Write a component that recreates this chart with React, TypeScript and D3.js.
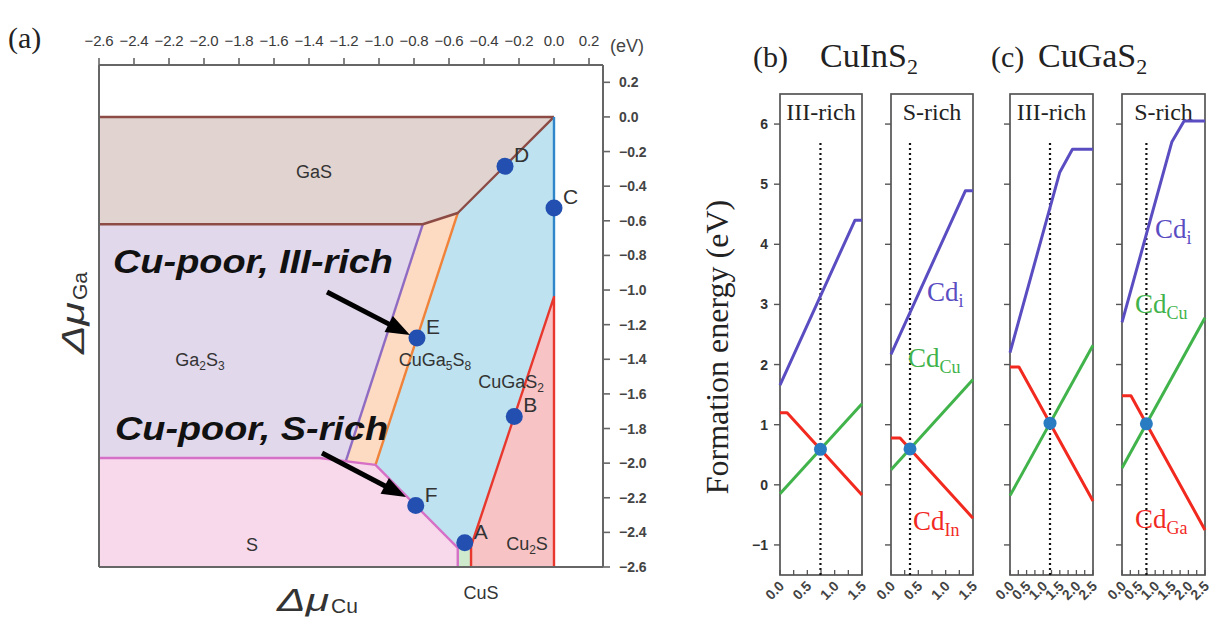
import React from 'react';
import * as d3 from 'd3';

const WIDTH = 1212;
const HEIGHT = 617;
const SANS = "'Liberation Sans', Arial, Helvetica, sans-serif";
const SERIF = "'Liberation Serif', 'Times New Roman', serif";

// ---------- (a) chemical-potential stability diagram (eV) ----------
const muTickValues = [-2.6, -2.4, -2.2, -2.0, -1.8, -1.6, -1.4, -1.2, -1.0, -0.8, -0.6, -0.4, -0.2, 0.0, 0.2];

// phase fields as [ΔμCu, ΔμGa] polygons
const phaseGaS = [[-2.6, 0], [0, 0], [-0.55, -0.555], [-0.75, -0.62], [-2.6, -0.62]];
const phaseGa2S3 = [[-2.6, -0.62], [-0.75, -0.62], [-1.19, -1.99], [-1.34, -1.97], [-2.6, -1.97]];
const phaseCuGa5S8 = [[-0.75, -0.62], [-0.55, -0.555], [-1.02, -2.01], [-1.19, -1.99]];
const phaseCuGaS2 = [[-0.55, -0.555], [0, 0], [0, -1.04], [-0.474, -2.48], [-0.55, -2.49], [-1.02, -2.01]];
const phaseS = [[-2.6, -1.97], [-1.34, -1.97], [-1.02, -2.01], [-0.55, -2.49], [-0.55, -2.6], [-2.6, -2.6]];
const phaseCuS = [[-0.55, -2.49], [-0.474, -2.48], [-0.474, -2.6], [-0.55, -2.6]];
const phaseCu2S = [[0, -1.04], [0, -2.6], [-0.474, -2.6], [-0.474, -2.48]];

// phase boundaries
const edgeGaSTop = [[-2.6, 0], [0, 0]];
const edgeGaSBottom = [[-2.6, -0.62], [-0.75, -0.62], [-0.55, -0.555], [0, 0]];
const edgeGa2S3 = [[-0.75, -0.62], [-1.19, -1.99]];
const edgeCuGa5S8 = [[-0.55, -0.555], [-1.02, -2.01]];
const edgeS = [[-2.6, -1.97], [-1.34, -1.97], [-1.02, -2.01], [-0.55, -2.49], [-0.55, -2.6]];
const edgeCuRich = [[0, 0], [0, -1.04]];
const edgeCu2S = [[0, -2.6], [0, -1.04], [-0.474, -2.48], [-0.474, -2.6]];

// labelled chemical-potential points
const pointNames = ['A', 'B', 'C', 'D', 'E', 'F'];
const pointMuCu = [-0.51, -0.227, 0.0, -0.28, -0.783, -0.79];
const pointMuGa = [-2.46, -1.73, -0.526, -0.285, -1.277, -2.245];

// ---------- (b),(c) Cd defect formation energies vs Fermi level ----------
const energyTicks = [-1, 0, 1, 2, 3, 4, 5, 6];

const cuInS2IIIRichCdI = [[0, 1.66], [1.37, 4.4], [1.5, 4.4]];
const cuInS2IIIRichCdCu = [[0, -0.15], [1.5, 1.35]];
const cuInS2IIIRichCdIn = [[0, 1.2], [0.13, 1.2], [1.5, -0.17]];

const cuInS2SRichCdI = [[0, 2.17], [1.36, 4.89], [1.5, 4.89]];
const cuInS2SRichCdCu = [[0, 0.25], [1.5, 1.75]];
const cuInS2SRichCdIn = [[0, 0.78], [0.165, 0.78], [1.5, -0.555]];

const cuGaS2IIIRichCdI = [[0, 2.2], [1.5, 5.2], [1.88, 5.58], [2.5, 5.58]];
const cuGaS2IIIRichCdCu = [[0, -0.18], [2.5, 2.32]];
const cuGaS2IIIRichCdGa = [[0, 1.96], [0.27, 1.96], [2.5, -0.27]];

const cuGaS2SRichCdI = [[0, 2.7], [1.5, 5.7], [1.87, 6.05], [2.5, 6.05]];
const cuGaS2SRichCdCu = [[0, 0.28], [2.5, 2.78]];
const cuGaS2SRichCdGa = [[0, 1.48], [0.27, 1.48], [2.5, -0.75]];

const panelHeads = ['III-rich', 'S-rich', 'III-rich', 'S-rich'];
const panelGaps = [1.5, 1.5, 2.5, 2.5];

const COLOR_I = '#5a4dc2';
const COLOR_CU = '#41b34b';
const COLOR_III = '#f2291f';
const COLOR_PIN = '#2a7cc2';

type Pt = number[];
type Part = [string, boolean];

function SubText({ x, y, parts, size, subSize, shift, ...rest }: any) {
  let prevSub = false;
  return (
    <text x={x} y={y} fontSize={size} {...rest}>
      {(parts as Part[]).map(([t, sub], i) => {
        const dy = sub && !prevSub ? shift : !sub && prevSub ? -shift : 0;
        prevSub = sub;
        return (
          <tspan key={i} dy={dy} fontSize={sub ? subSize : size}>
            {t}
          </tspan>
        );
      })}
    </text>
  );
}

function interp(pts: Pt[]) {
  return d3.scaleLinear().domain(pts.map((p) => p[0])).range(pts.map((p) => p[1])).clamp(true);
}

function crossing(a: Pt[], b: Pt[], xMax: number) {
  const fa = interp(a);
  const fb = interp(b);
  let lo = 0;
  let hi = xMax;
  const sign = Math.sign(fa(lo) - fb(lo));
  for (let k = 0; k < 60; k++) {
    const mid = (lo + hi) / 2;
    if (Math.sign(fa(mid) - fb(mid)) === sign) lo = mid;
    else hi = mid;
  }
  const x = (lo + hi) / 2;
  return [x, fa(x)];
}

function Arrow({ tail, tip }: { tail: Pt; tip: Pt }) {
  const dx = tip[0] - tail[0];
  const dy = tip[1] - tail[1];
  const len = Math.hypot(dx, dy);
  const ux = dx / len;
  const uy = dy / len;
  const headLen = 24;
  const halfW = 9;
  const bx = tip[0] - ux * headLen;
  const by = tip[1] - uy * headLen;
  const pts = [
    [tip[0], tip[1]],
    [bx - uy * halfW, by + ux * halfW],
    [bx + uy * halfW, by - ux * halfW],
  ];
  return (
    <g>
      <line x1={tail[0]} y1={tail[1]} x2={bx + ux * 2} y2={by + uy * 2} stroke="#000" strokeWidth={5} />
      <polygon points={pts.map((p) => p.join(',')).join(' ')} fill="#000" />
    </g>
  );
}

function PhaseDiagram() {
  const xMu = d3.scaleLinear().domain([-2.6, 0.28]).range([99, 603]);
  const yMu = d3.scaleLinear().domain([-2.6, 0.3]).range([567, 65]);
  const line = d3.line<Pt>().x((p) => xMu(p[0])).y((p) => yMu(p[1]));
  const poly = (pts: Pt[]) => line(pts) + 'Z';
  const fmt = d3.format('.1f');

  const fields: [Pt[], string][] = [
    [phaseGaS, '#e1d3cf'],
    [phaseGa2S3, '#e2d8ec'],
    [phaseCuGa5S8, '#fddbc3'],
    [phaseCuGaS2, '#bee2ef'],
    [phaseS, '#f8d9ec'],
    [phaseCuS, '#cfe9cc'],
    [phaseCu2S, '#f8c3c5'],
  ];
  const edges: [Pt[], string][] = [
    [edgeGaSTop, '#8c4b44'],
    [edgeGa2S3, '#8f6cc2'],
    [edgeCuGa5S8, '#f0823a'],
    [edgeS, '#d670c6'],
    [edgeGaSBottom, '#8c4b44'],
    [edgeCuRich, '#2f86c9'],
    [edgeCu2S, '#e8382e'],
  ];

  const x0 = xMu(-2.6);
  const x1 = xMu(0.28);
  const yTop = yMu(0.3);
  const yBot = yMu(-2.6);
  const axisColor = '#666';

  const regionLabels: { parts: Part[]; x: number; y: number }[] = [
    { parts: [['GaS', false]], x: 314, y: 178 },
    { parts: [['Ga', false], ['2', true], ['S', false], ['3', true]], x: 200, y: 366 },
    { parts: [['CuGa', false], ['5', true], ['S', false], ['8', true]], x: 435, y: 366 },
    { parts: [['CuGaS', false], ['2', true]], x: 511, y: 388 },
    { parts: [['S', false]], x: 252, y: 551 },
    { parts: [['Cu', false], ['2', true], ['S', false]], x: 527, y: 550 },
    { parts: [['CuS', false]], x: 481, y: 599 },
  ];

  return (
    <g>
      {fields.map(([pts, fill], i) => (
        <path key={'f' + i} d={poly(pts)} fill={fill} stroke="none" />
      ))}
      {edges.map(([pts, stroke], i) => (
        <path key={'e' + i} d={line(pts) as string} fill="none" stroke={stroke} strokeWidth={2.4} strokeLinejoin="round" />
      ))}

      {/* frame and axes */}
      <line x1={x0} y1={yTop} x2={x1} y2={yTop} stroke={axisColor} strokeWidth={2} />
      <line x1={x0} y1={yBot} x2={x1} y2={yBot} stroke={axisColor} strokeWidth={2} />
      <line x1={x0} y1={yTop} x2={x0} y2={yBot} stroke={axisColor} strokeWidth={2} />
      <line x1={x1} y1={yTop} x2={x1} y2={yBot} stroke={axisColor} strokeWidth={2} />
      {muTickValues.map((v) => (
        <g key={'tx' + v}>
          <line x1={xMu(v)} y1={yTop} x2={xMu(v)} y2={yTop - 7} stroke={axisColor} strokeWidth={1.6} />
          <text x={xMu(v)} y={46} textAnchor="middle" fontFamily={SANS} fontSize={15} fill="#3a3a3a" letterSpacing={-0.2}>
            {fmt(v)}
          </text>
        </g>
      ))}
      {muTickValues.map((v) => (
        <g key={'ty' + v}>
          <line x1={x1} y1={yMu(v)} x2={x1 + 7} y2={yMu(v)} stroke={axisColor} strokeWidth={1.6} />
          <text x={x1 + 16} y={yMu(v)} dy="0.36em" fontFamily={SANS} fontSize={14} fontWeight="bold" fill="#444">
            {fmt(v)}
          </text>
        </g>
      ))}
      <text x={610} y={52} fontFamily={SANS} fontSize={18} fill="#444">
        (eV)
      </text>

      {regionLabels.map((r, i) => (
        <SubText
          key={'rl' + i}
          x={r.x}
          y={r.y}
          parts={r.parts}
          size={18}
          subSize={12}
          shift={4}
          textAnchor="middle"
          fontFamily={SANS}
          fill="#333"
        />
      ))}

      {pointNames.map((n, i) => {
        const cx = xMu(pointMuCu[i]);
        const cy = yMu(pointMuGa[i]);
        return (
          <g key={'p' + n}>
            <circle cx={cx} cy={cy} r={8.5} fill="#2350b0" />
            <text x={cx + 9} y={cy - 4} fontFamily={SANS} fontSize={21} fill="#333">
              {n}
            </text>
          </g>
        );
      })}

      <text x={113} y={273} fontFamily={SANS} fontSize={33} fontWeight="bold" fontStyle="italic" fill="#111" textLength={280} lengthAdjust="spacingAndGlyphs">
        Cu-poor, III-rich
      </text>
      <Arrow tail={[327, 292]} tip={[410, 335]} />
      <text x={115} y={440} fontFamily={SANS} fontSize={33} fontWeight="bold" fontStyle="italic" fill="#111" textLength={273} lengthAdjust="spacingAndGlyphs">
        Cu-poor, S-rich
      </text>
      <Arrow tail={[322, 453]} tip={[406, 497]} />

      {/* axis titles */}
      <text x={277} y={611} fontFamily={SANS} fontSize={31} fontStyle="italic" fill="#333" textLength={52} lengthAdjust="spacingAndGlyphs">
        Δμ
      </text>
      <text x={331} y={613} fontFamily={SANS} fontSize={21} fill="#333">
        Cu
      </text>
      <g transform="translate(84, 354) rotate(-90)">
        <text x={0} y={0} fontFamily={SANS} fontSize={31} fontStyle="italic" fill="#333" textLength={52} lengthAdjust="spacingAndGlyphs">
          Δμ
        </text>
        <text x={54} y={3} fontFamily={SANS} fontSize={21} fill="#333">
          Ga
        </text>
      </g>

      <text x={8} y={48} fontFamily={SERIF} fontSize={30} fill="#222">
        (a)
      </text>
    </g>
  );
}

function EnergyPanels() {
  const yE = d3.scaleLinear().domain([-1.5, 6.5]).range([575, 94]);
  const layout = [
    { left: 780, right: 862 },
    { left: 891, right: 973 },
    { left: 1010, right: 1093 },
    { left: 1122, right: 1205 },
  ];
  const series = [
    [cuInS2IIIRichCdI, cuInS2IIIRichCdCu, cuInS2IIIRichCdIn],
    [cuInS2SRichCdI, cuInS2SRichCdCu, cuInS2SRichCdIn],
    [cuGaS2IIIRichCdI, cuGaS2IIIRichCdCu, cuGaS2IIIRichCdGa],
    [cuGaS2SRichCdI, cuGaS2SRichCdCu, cuGaS2SRichCdGa],
  ];
  const colors = [COLOR_I, COLOR_CU, COLOR_III];
  const fmt = d3.format('.1f');
  const frameColor = '#555';

  const cdLabels: { parts: Part[]; color: string; x: number; y: number }[] = [
    { parts: [['Cd', false], ['i', true]], color: COLOR_I, x: 927, y: 301 },
    { parts: [['Cd', false], ['Cu', true]], color: COLOR_CU, x: 908, y: 367 },
    { parts: [['Cd', false], ['In', true]], color: COLOR_III, x: 913, y: 530 },
    { parts: [['Cd', false], ['i', true]], color: COLOR_I, x: 1155, y: 238 },
    { parts: [['Cd', false], ['Cu', true]], color: COLOR_CU, x: 1135, y: 313 },
    { parts: [['Cd', false], ['Ga', true]], color: COLOR_III, x: 1135, y: 528 },
  ];

  return (
    <g>
      {layout.map((lay, pi) => {
        const xMax = panelGaps[pi];
        const xE = d3.scaleLinear().domain([0, xMax]).range([lay.left, lay.right]);
        const line = d3.line<Pt>().x((p) => xE(p[0])).y((p) => yE(p[1]));
        const [cdI, cdCu, cdIII] = series[pi];
        const pin = crossing(cdCu, cdIII, xMax);
        const minor = d3.range(0, xMax + 1e-9, 0.25);
        const major = d3.range(0, xMax + 1e-9, 0.5);
        const top = yE(6.5);
        const bottom = yE(-1.5);
        return (
          <g key={'panel' + pi}>
            <rect x={lay.left} y={top} width={lay.right - lay.left} height={bottom - top} fill="none" stroke={frameColor} strokeWidth={1.7} />
            {energyTicks.map((v) => (
              <line key={'yt' + v} x1={lay.left - 6} y1={yE(v)} x2={lay.left} y2={yE(v)} stroke={frameColor} strokeWidth={1.4} />
            ))}
            {pi === 0 &&
              energyTicks.map((v) => (
                <text key={'yl' + v} x={lay.left - 12} y={yE(v)} dy="0.36em" textAnchor="end" fontFamily={SANS} fontSize={14} fontWeight="bold" fill="#333">
                  {v < 0 ? '\u2212' + Math.abs(v) : String(v)}
                </text>
              ))}
            {minor.map((v) => (
              <line key={'xt' + v} x1={xE(v)} y1={bottom} x2={xE(v)} y2={bottom - 5} stroke={frameColor} strokeWidth={1.3} />
            ))}
            {major.map((v) => (
              <text
                key={'xl' + v}
                transform={`translate(${xE(v) + 5}, ${bottom + 12}) rotate(-45)`}
                textAnchor="end"
                fontFamily={SANS}
                fontSize={14}
                fontWeight="bold"
                fill="#444"
              >
                {fmt(v)}
              </text>
            ))}
            <text x={(lay.left + lay.right) / 2} y={120} textAnchor="middle" fontFamily={SERIF} fontSize={24} fill="#222">
              {panelHeads[pi]}
            </text>
            <line x1={xE(pin[0])} y1={bottom} x2={xE(pin[0])} y2={yE(5.73)} stroke="#111" strokeWidth={2.2} strokeDasharray="2,3" />
            {[cdI, cdCu, cdIII].map((pts, si) => (
              <path key={'s' + si} d={line(pts as Pt[]) as string} fill="none" stroke={colors[si]} strokeWidth={3} strokeLinejoin="round" />
            ))}
            <circle cx={xE(pin[0])} cy={yE(pin[1])} r={6.5} fill={COLOR_PIN} />
          </g>
        );
      })}

      {cdLabels.map((l, i) => (
        <SubText key={'cd' + i} x={l.x} y={l.y} parts={l.parts} size={27} subSize={18} shift={6} fontFamily={SERIF} fill={l.color} />
      ))}

      <text transform="translate(728, 347) rotate(-90)" textAnchor="middle" fontFamily={SERIF} fontSize={32} fill="#222">
        Formation energy (eV)
      </text>

      <text x={753} y={67} fontFamily={SERIF} fontSize={30} fill="#222">
        (b)
      </text>
      <SubText x={820} y={67} parts={[['CuInS', false], ['2', true]]} size={34} subSize={22} shift={7} fontFamily={SERIF} fill="#222" />
      <text x={991} y={67} fontFamily={SERIF} fontSize={30} fill="#222">
        (c)
      </text>
      <SubText x={1038} y={67} parts={[['CuGaS', false], ['2', true]]} size={34} subSize={22} shift={7} fontFamily={SERIF} fill="#222" />
    </g>
  );
}

export default function App() {
  return (
    <svg
      width={WIDTH}
      height={HEIGHT}
      viewBox={`0 0 ${WIDTH} ${HEIGHT}`}
      style={{ position: 'absolute', left: 0, top: 0, background: '#fff' }}
    >
      <PhaseDiagram />
      <EnergyPanels />
    </svg>
  );
}
